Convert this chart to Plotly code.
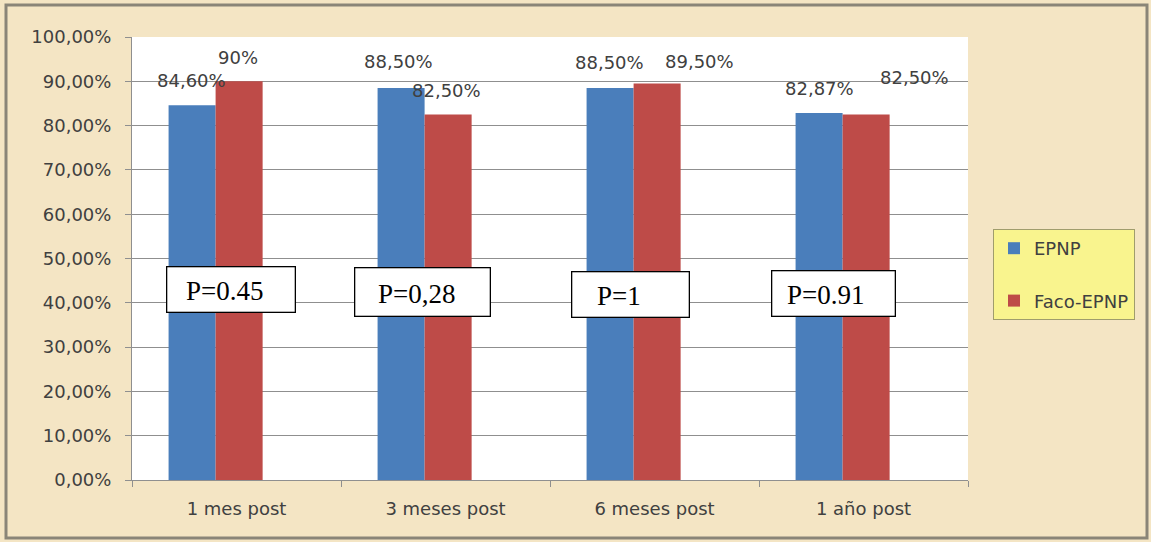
import plotly.graph_objects as go

# ---- data ----
categories = ["1 mes post", "3 meses post", "6 meses post", "1 año post"]
epnp = [0.846, 0.885, 0.885, 0.8287]
faco_epnp = [0.90, 0.825, 0.895, 0.825]
epnp_labels = ["84,60%", "88,50%", "88,50%", "82,87%"]
faco_labels = ["90%", "82,50%", "89,50%", "82,50%"]
p_values = ["P=0.45", "P=0,28", "P=1", "P=0.91"]
series_names = ["EPNP", "Faco-EPNP"]

# ---- style / layout numbers ----
W, H = 1151, 542
PL, PR, PT, PB = 132, 968, 37, 480          # plot area in px
cat_px = (PR - PL) / len(categories)
BLUE, RED = "#4a7ebb", "#be4b48"
TXT = "#404040"
FONT = "DejaVu Sans"
BAR_W = 0.225
OFF_BLUE, OFF_RED = -0.325, -0.10

# label tweaks (px): extra x shift, y shift above bar top
blue_lab_dx = [-1, -3, -1, 0]
blue_lab_dy = [25, 26, 25, 24]
red_lab_dx = [-1, -2, 42, 48]
red_lab_dy = [24, 24, 22, 37]

# p-value boxes: centre offset (px) from category centre, centre y (px), box size
p_dx = [-6, -23, -24, -30]
p_text_dx = [-6, -6, -12, -8]
p_cy = [289, 292, 294, 293]
p_w = [129, 136, 118, 124]
p_h = [46, 49, 46, 46]

fig = go.Figure()
fig.add_trace(go.Bar(x=categories, y=epnp, name=series_names[0], marker_color=BLUE,
                     width=BAR_W, offset=OFF_BLUE, legendgroup="a",
                     marker_line_width=0))
fig.add_trace(go.Bar(x=categories, y=faco_epnp, name=series_names[1], marker_color=RED,
                     width=BAR_W, offset=OFF_RED, legendgroup="b",
                     marker_line_width=0))

ann = []
shapes = []
for i, c in enumerate(categories):
    bc = (OFF_BLUE + BAR_W / 2) * cat_px
    rc = (OFF_RED + BAR_W / 2) * cat_px
    ann.append(dict(x=c, y=epnp[i], xref="x", yref="y", text=epnp_labels[i],
                    showarrow=False, xshift=bc + blue_lab_dx[i], yshift=blue_lab_dy[i],
                    font=dict(family=FONT, size=18, color=TXT)))
    ann.append(dict(x=c, y=faco_epnp[i], xref="x", yref="y", text=faco_labels[i],
                    showarrow=False, xshift=rc + red_lab_dx[i], yshift=red_lab_dy[i],
                    font=dict(family=FONT, size=18, color=TXT)))
    pad = 4
    ann.append(dict(x=c, y=(PB - p_cy[i]) / (PB - PT), xref="x", yref="paper",
                    text="", showarrow=False, xshift=p_dx[i],
                    width=p_w[i] - 2 * pad - 2, height=p_h[i] - 2 * pad - 2,
                    borderpad=pad, bordercolor="black", borderwidth=1.3,
                    bgcolor="white"))
    ann.append(dict(x=c, y=(PB - p_cy[i]) / (PB - PT), xref="x", yref="paper",
                    text=p_values[i], showarrow=False,
                    xshift=p_dx[i] + p_text_dx[i], yshift=-2,
                    font=dict(family="Liberation Serif", size=27, color="black")))

shapes.append(dict(type="rect", xref="paper", yref="paper",
                   x0=(6 - PL) / (PR - PL), x1=(1147 - PL) / (PR - PL),
                   y0=(PB - 538) / (PB - PT), y1=(PB - 5) / (PB - PT),
                   line=dict(color="#8a8578", width=3), layer="below"))

fig.update_layout(
    width=W, height=H,
    margin=dict(l=PL, r=W - PR, t=PT, b=H - PB, pad=0),
    paper_bgcolor="#f4e5c4", plot_bgcolor="white",
    separators=",.",
    barmode="overlay",
    showlegend=True,
    legend=dict(x=(993 - PL) / (PR - PL), y=(PB - 229) / (PB - PT),
                xanchor="left", yanchor="top",
                bgcolor="#f9f48e", bordercolor="#a09d6c", borderwidth=1,
                font=dict(family=FONT, size=18, color=TXT),
                tracegroupgap=26, traceorder="grouped", itemwidth=30),
    annotations=ann, shapes=shapes,
    font=dict(family=FONT, color=TXT),
)
fig.update_yaxes(range=[0, 1], dtick=0.1, tickformat=".2%",
                 showgrid=True, gridcolor="#8f8f8f", gridwidth=1,
                 showline=True, linecolor="#8f8f8f", linewidth=1,
                 ticks="outside", ticklen=6, tickcolor="#8f8f8f",
                 ticklabelstandoff=10,
                 tickfont=dict(family=FONT, size=18, color=TXT), zeroline=False)
fig.update_xaxes(showgrid=False, showline=True, linecolor="#8f8f8f", linewidth=1,
                 ticks="outside", tickson="boundaries", ticklen=6, tickcolor="#8f8f8f",
                 ticklabelstandoff=12,
                 tickfont=dict(family=FONT, size=18, color=TXT))

fig.write_html("out.html", config={"displayModeBar": False},
               post_script="document.body.style.margin='0';")
